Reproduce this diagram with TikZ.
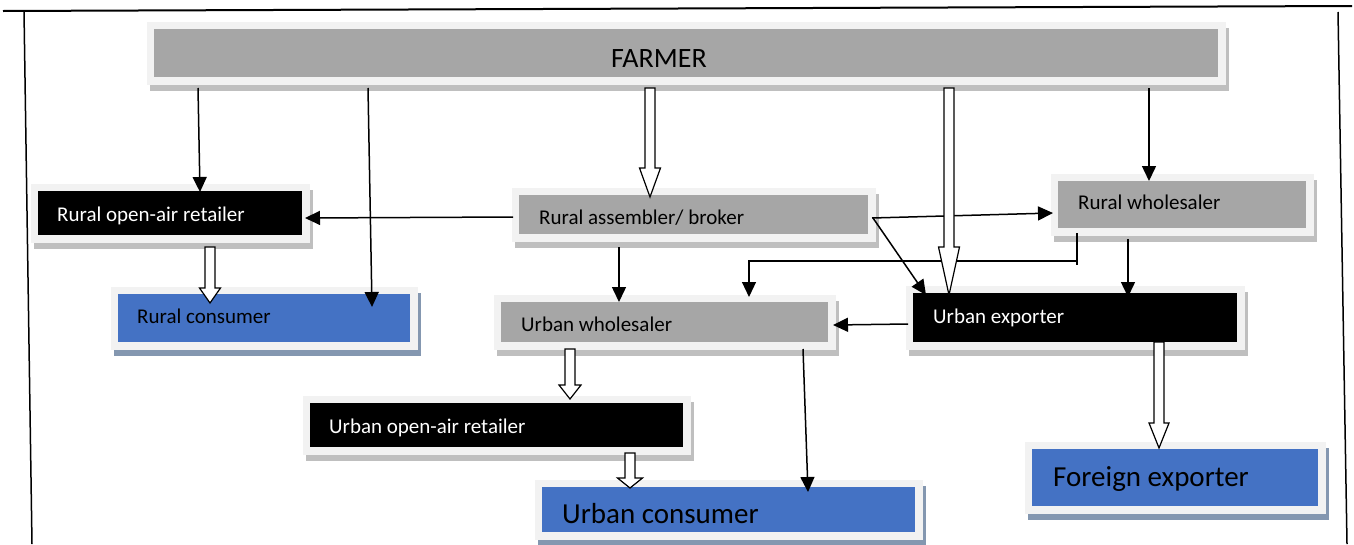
\documentclass[tikz,border=0pt]{standalone}
\usepackage{fontspec}
\setmainfont{Carlito}
\usetikzlibrary{arrows.meta}
\definecolor{boxgray}{HTML}{A6A6A6}
\definecolor{rimgray}{HTML}{F2F2F2}
\definecolor{shgray}{HTML}{BFBFBF}
\definecolor{boxblue}{HTML}{4472C4}
\definecolor{shblue}{HTML}{8497B0}
% panel: x1 y1 x2 y2 (inner box), fill, shadow colour, name
\newcommand\panel[7]{%
  \fill[#6] ({#1-7.5+3},{#2-7.5+6}) rectangle ({#3+7.5+3},{#4+7.5+6});
  \fill[rimgray] ({#1-7.5},{#2-7.5}) rectangle ({#3+7.5},{#4+7.5});
  \node[fill=#5, inner sep=0pt, anchor=north west,
        minimum width={(#3-#1)*1pt}, minimum height={(#4-#2)*1pt}] (#7) at (#1,#2) {};
}
% hollow block arrow: x, ytop, ytip, head length, head half width
\newcommand\harrow[5]{%
  \draw[fill=white, line width=1.2pt, line join=miter]
    ({#1-5},#2) -- ({#1-5},{#3-#4}) -- ({#1-#5},{#3-#4}) -- (#1,#3)
    -- ({#1+#5},{#3-#4}) -- ({#1+5},{#3-#4}) -- ({#1+5},#2) -- cycle;
}
\tikzset{
  arr/.style={line width=1.5pt, -{Triangle[length=15pt,width=14pt]}},
  lnk/.style={line width=1.5pt},
  lbl/.style={inner sep=0pt, anchor=base west, font=\fontsize{21}{24}\selectfont},
  biglbl/.style={inner sep=0pt, anchor=base west, font=\fontsize{29}{32}\selectfont},
}
\begin{document}
\begin{tikzpicture}[x=1pt,y=-1pt]
\useasboundingbox (0,0) rectangle (1354,544);
\fill[white] (0,0) rectangle (1354,544);
% frame
\draw[line width=2pt] (3,11) -- (1352,6);
\draw[line width=1.5pt] (24,11) -- (32,544);
\draw[line width=1.5pt] (1338,12) -- (1347,544);

% boxes
\panel{154}{29}{1218}{77}{boxgray}{shgray}{farmer}
\panel{38}{191}{302}{235}{black}{shgray}{rora}
\panel{118}{294}{410}{342}{boxblue}{shblue}{rcons}
\panel{519}{195}{868}{234}{boxgray}{shgray}{rab}
\panel{1058}{181}{1306}{228}{boxgray}{shgray}{rws}
\panel{501}{302}{828}{342}{boxgray}{shgray}{uws}
\panel{913}{293}{1237}{342}{black}{shgray}{uexp}
\panel{310}{403}{683}{447}{black}{shgray}{uora}
\panel{542}{487}{915}{532}{boxblue}{shblue}{ucons}
\panel{1032}{449}{1318}{506}{boxblue}{shblue}{fexp}

% labels
\node[inner sep=0pt, anchor=base west, font=\fontsize{28}{32}\selectfont] (farmer-t) at (611,67) {FARMER};
\node[lbl, text=white] (rora-t) at (57,221) {Rural open-air retailer};
\node[lbl] (rab-t) at (539,224) {Rural assembler/ broker};
\node[lbl] (rws-t) at (1078,209) {Rural wholesaler};
\node[lbl] (rcons-t) at (137,323) {Rural consumer};
\node[lbl] (uws-t) at (521,331) {Urban wholesaler};
\node[lbl, text=white] (uexp-t) at (933,323) {Urban exporter};
\node[lbl, text=white] (uora-t) at (329,433) {Urban open-air retailer};
\node[biglbl] (ucons-t) at (562,523) {Urban consumer};
\node[biglbl] (fexp-t) at (1053,486) {Foreign exporter};

% solid arrows
\draw[arr] (198,88) -- (200,192);
\draw[arr] (368,88) -- (372,307);
\draw[arr] (1149,88) -- (1149,181);
\draw[arr] (513,217) -- (305,218);
\draw[arr] (619,247) -- (619,302);
\draw[arr] (872,218) -- (1053,213);
\draw[arr] (873,218) -- (926,295);
\draw[lnk] (1077,233) -- (1077,265);
\draw[arr, line width=1.2pt] (1077,261) -- (749,261) -- (749,297);
\draw[arr] (1128,239) -- (1128,297);
\draw[arr] (908,324) -- (833,325);
\draw[arr] (803,349) -- (808,492);

% hollow arrows
\harrow{650}{88}{197}{29}{10.5}
\harrow{949}{88}{295}{48}{10.5}
\harrow{210}{247}{303}{15}{10.5}
\harrow{570}{349}{399}{14}{11}
\harrow{630}{453}{488}{10}{12.5}
\harrow{1159}{342}{448}{25}{10}
\end{tikzpicture}
\end{document}
